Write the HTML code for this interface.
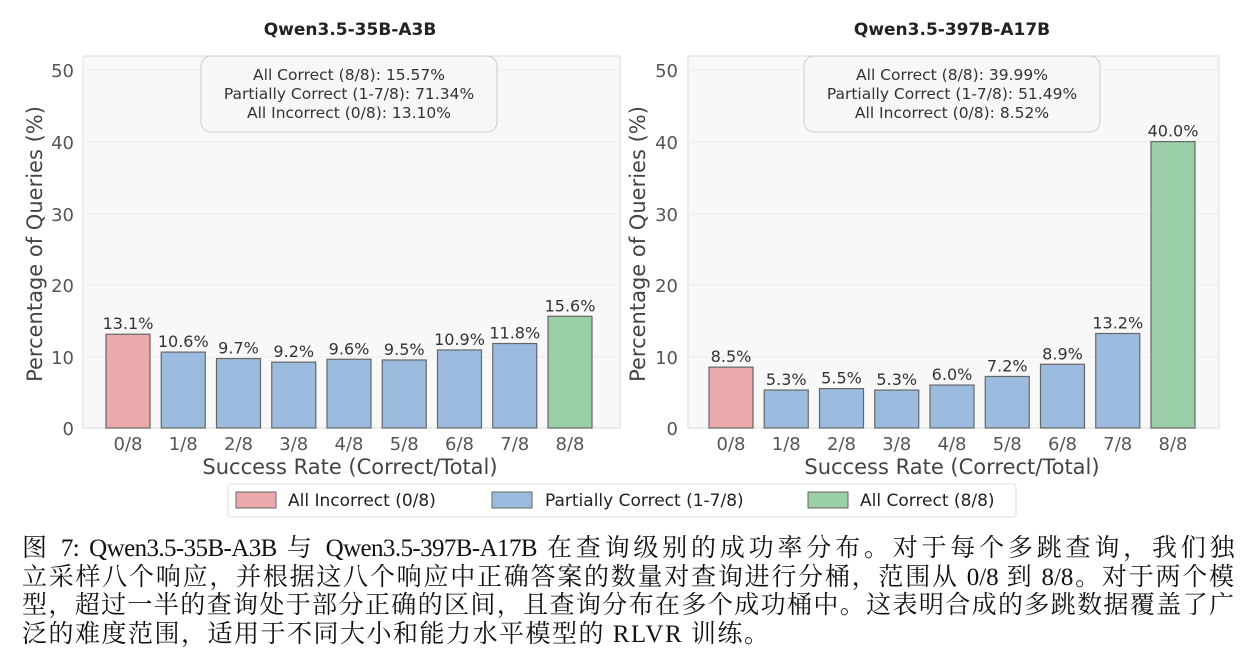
<!DOCTYPE html>
<html><head><meta charset="utf-8"><style>
body{margin:0;background:#fff;width:1246px;height:664px;overflow:hidden}
svg text{font-family:"DejaVu Sans",sans-serif}
.cap{position:absolute;left:22px;top:535px;width:1212px;font-family:"Liberation Serif","Noto Serif CJK SC",serif;font-size:25px;line-height:28.5px;color:#111}
.cap div{white-space:nowrap;text-align:justify;text-align-last:justify}
.cap div.last{text-align-last:left;letter-spacing:1.5px}
</style></head><body>
<svg width="1246" height="664" style="position:absolute;left:0;top:0">
<g>
<text x="350" y="35" font-size="17" font-weight="bold" text-anchor="middle" fill="#222">Qwen3.5-35B-A3B</text>
<rect x="83" y="56" width="537" height="372" fill="#f8f8f8" stroke="#ddd"/>
<g stroke="#ececec"><line x1="83" x2="620" y1="70" y2="70"/><line x1="83" x2="620" y1="142" y2="142"/><line x1="83" x2="620" y1="214" y2="214"/><line x1="83" x2="620" y1="285" y2="285"/><line x1="83" x2="620" y1="357" y2="357"/></g>
<g font-size="18" fill="#555" text-anchor="end"><text x="74" y="77">50</text><text x="74" y="149">40</text><text x="74" y="221">30</text><text x="74" y="292">20</text><text x="74" y="364">10</text><text x="74" y="435">0</text></g>
<text transform="translate(42,244) rotate(-90)" font-size="21" fill="#444" text-anchor="middle">Percentage of Queries (%)</text>
<text x="350" y="474" font-size="21" fill="#444" text-anchor="middle">Success Rate (Correct/Total)</text>
<rect x="201" y="56" width="296" height="76" rx="10" fill="#f7f7f7" stroke="#ccc"/>
<g font-size="15.5" fill="#333" text-anchor="middle"><text x="349" y="80">All Correct (8/8): 15.57%</text><text x="349" y="99">Partially Correct (1-7/8): 71.34%</text><text x="349" y="118">All Incorrect (0/8): 13.10%</text></g>
</g>
<g>
<text x="952" y="35" font-size="17" font-weight="bold" text-anchor="middle" fill="#222">Qwen3.5-397B-A17B</text>
<rect x="688" y="56" width="531" height="372" fill="#f8f8f8" stroke="#ddd"/>
<g stroke="#ececec"><line x1="688" x2="1219" y1="70" y2="70"/><line x1="688" x2="1219" y1="142" y2="142"/><line x1="688" x2="1219" y1="214" y2="214"/><line x1="688" x2="1219" y1="285" y2="285"/><line x1="688" x2="1219" y1="357" y2="357"/></g>
<g font-size="18" fill="#555" text-anchor="end"><text x="678" y="77">50</text><text x="678" y="149">40</text><text x="678" y="221">30</text><text x="678" y="292">20</text><text x="678" y="364">10</text><text x="678" y="435">0</text></g>
<text transform="translate(645,244) rotate(-90)" font-size="21" fill="#444" text-anchor="middle">Percentage of Queries (%)</text>
<text x="952" y="474" font-size="21" fill="#444" text-anchor="middle">Success Rate (Correct/Total)</text>
<rect x="804" y="56" width="296" height="76" rx="10" fill="#f7f7f7" stroke="#ccc"/>
<g font-size="15.5" fill="#333" text-anchor="middle"><text x="952" y="80">All Correct (8/8): 39.99%</text><text x="952" y="99">Partially Correct (1-7/8): 51.49%</text><text x="952" y="118">All Incorrect (0/8): 8.52%</text></g>
</g>
<g id="bars"></g>
<rect x="228" y="484" width="788" height="33" rx="3" fill="#fff" stroke="#ddd"/>
<rect x="236" y="492" width="40" height="16" fill="#eaa9aa" stroke="#666"/>
<text x="288" y="506" font-size="17" fill="#222">All Incorrect (0/8)</text>
<rect x="492" y="492" width="40" height="16" fill="#9bbcdf" stroke="#666"/>
<text x="545" y="506" font-size="17" fill="#222">Partially Correct (1-7/8)</text>
<rect x="808" y="492" width="40" height="16" fill="#9bcfa8" stroke="#666"/>
<text x="860" y="506" font-size="17" fill="#222">All Correct (8/8)</text>
</svg>
<div class="cap">
<div style="letter-spacing:-0.6px">图 7: Qwen3.5-35B-A3B 与 Qwen3.5-397B-A17B 在查询级别的成功率分布。对于每个多跳查询，我们独</div>
<div>立采样八个响应，并根据这八个响应中正确答案的数量对查询进行分桶，范围从 0/8 到 8/8。对于两个模</div>
<div>型，超过一半的查询处于部分正确的区间，且查询分布在多个成功桶中。这表明合成的多跳数据覆盖了广</div>
<div class="last">泛的难度范围，适用于不同大小和能力水平模型的 RLVR 训练。</div>
</div>
<script>
const ns="http://www.w3.org/2000/svg",g=document.getElementById("bars");
function el(t,a,txt){const e=document.createElementNS(ns,t);for(const k in a)e.setAttribute(k,a[k]);if(txt)e.textContent=txt;g.appendChild(e);}
function plot(x0,vals){vals.forEach((v,i)=>{const cx=x0+i*55.25,h=v*7.16,y=428-h;
const c=i==0?"#eaa9aa":i==8?"#9bcfa8":"#9bbcdf";
el("rect",{x:cx-22,y:y,width:44,height:h,fill:c,stroke:"#666","stroke-width":1.2});
el("text",{x:cx,y:y-5,"font-size":16,"text-anchor":"middle",fill:"#333"},v.toFixed(1)+"%");
el("text",{x:cx,y:450,"font-size":18,"text-anchor":"middle",fill:"#555"},i+"/8");});}
plot(128,[13.1,10.6,9.7,9.2,9.6,9.5,10.9,11.8,15.6]);
plot(731,[8.5,5.3,5.5,5.3,6.0,7.2,8.9,13.2,40.0]);
</script>
</body></html>
